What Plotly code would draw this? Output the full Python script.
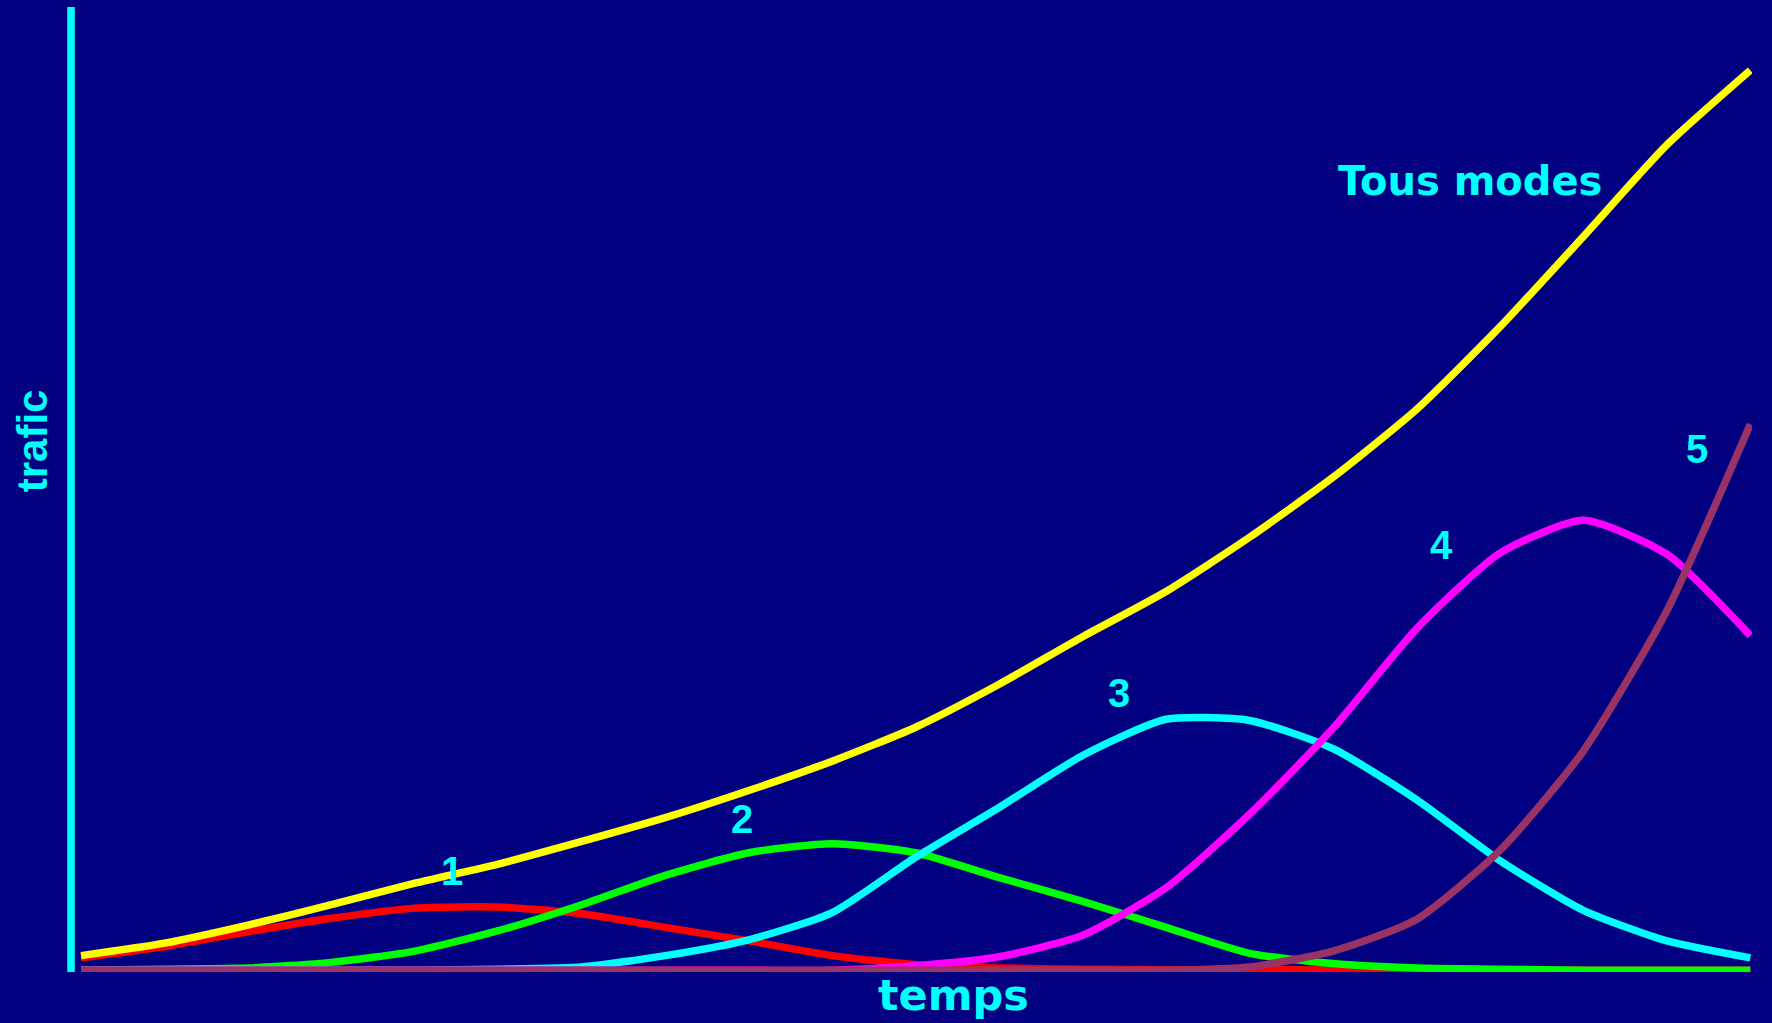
import plotly.graph_objects as go

# time grid (temps)
temps = [0, 5, 10, 15, 20, 25, 30, 35, 40, 45, 50, 55, 60, 65, 70, 75, 80, 85, 90, 95, 100]

mode1 = [11, 21, 34, 46, 55, 56, 50, 38, 26, 13, 5, 2, 1, 0.5, 0.5, 0.3, 0, 0, 0, 0, 0]
mode2 = [0, 1, 2, 7, 17, 35, 58, 84, 104, 112, 104, 82, 61, 38, 15, 6, 2, 1, 0, 0, 0]
mode3 = [0, 0, 0, 0, 0, 1, 3, 13, 27, 51, 100, 144, 190, 222, 221, 196, 151, 97, 53, 26, 11]
mode4 = [0, 0, 0, 0, 0, 0, 0, 0, 0, 0, 4, 12, 31, 73, 138, 214, 302, 369, 398, 368, 296]
mode5 = [0, 0, 0, 0, 0, 0, 0, 0, 0, 0, 0, 0, 0, 0, 3, 17, 45, 106, 194, 318, 483]
tous = [13, 24, 40, 58, 77, 94, 114, 135, 159, 185, 215, 253, 295, 335, 383, 436, 496, 569, 649, 730, 796]

series = [
    ("1", mode1, "#FF0000"),
    ("2", mode2, "#00FF00"),
    ("3", mode3, "#00FFFF"),
    ("4", mode4, "#FF00FF"),
    ("5", mode5, "#993366"),
    ("Tous modes", tous, "#FFFF00"),
]

labels = [
    ("1", 22.2, 88),
    ("2", 39.6, 134),
    ("3", 62.2, 245),
    ("4", 81.5, 376),
    ("5", 96.8, 461),
]

fig = go.Figure()
for name, ys, col in series:
    fig.add_trace(go.Scatter(
        x=temps, y=ys, mode="lines", name=name,
        line=dict(color=col, width=7.5, shape="spline", smoothing=0.6),
        hoverinfo="skip",
    ))

BG = "#000080"
CY = "#00FFFF"
FONT = "Liberation Sans, Arial"
WIDE = "DejaVu Sans"

ann = []
for txt, x, y in labels:
    ann.append(dict(x=x, y=y, xref="x", yref="y", text="<b>" + txt + "</b>", showarrow=False,
                    xanchor="center", yanchor="middle",
                    font=dict(family=FONT, size=40, color=CY)))
ann.append(dict(x=83.2, y=698, xref="x", yref="y", text="<b>Tous modes</b>", showarrow=False,
                xanchor="center", yanchor="middle",
                font=dict(family=WIDE, size=40, color=CY)))
ann.append(dict(x=-0.0232, y=0.55, xref="paper", yref="paper", text="<b>trafic</b>",
                showarrow=False, textangle=-90, xanchor="center", yanchor="middle",
                font=dict(family=FONT, size=42, color=CY)))
ann.append(dict(x=0.5247, y=-0.0235, xref="paper", yref="paper", text="<b>temps</b>",
                showarrow=False, xanchor="center", yanchor="middle",
                font=dict(family=WIDE, size=43, color=CY)))

fig.update_layout(
    width=1772, height=1023,
    paper_bgcolor=BG, plot_bgcolor=BG,
    margin=dict(l=71, r=20, t=7, b=51),
    showlegend=False,
    annotations=ann,
    shapes=[dict(type="line", xref="paper", yref="paper", x0=0, x1=0, y0=0, y1=1,
                 line=dict(color=CY, width=7.5))],
    xaxis=dict(range=[-0.6, 100.1], showgrid=False, zeroline=False,
               showticklabels=False, ticks="", showline=False),
    yaxis=dict(range=[-1.5, 852], showgrid=False, zeroline=False,
               showticklabels=False, ticks="", showline=False),
)

fig.write_html(
    "out.html",
    config={"displayModeBar": False},
    post_script="document.body.style.margin='0';document.body.style.overflow='hidden';"
                "document.body.style.background='#000080';",
)
